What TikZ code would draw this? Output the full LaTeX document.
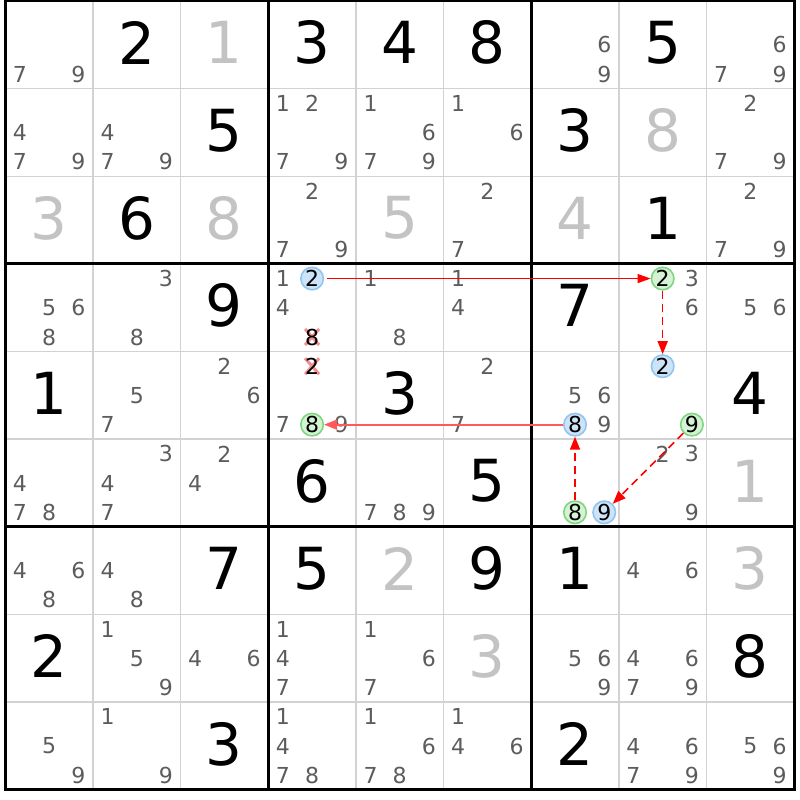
\documentclass[tikz,border=0pt]{standalone}
\usepackage{fontspec}
\setmainfont{DejaVu Sans}
\usetikzlibrary{arrows.meta}
\definecolor{thin}{HTML}{D2D2D2}
\definecolor{solved}{HTML}{C3C3C3}
\definecolor{candc}{HTML}{5C5C5C}
\definecolor{bluefl}{HTML}{CDE4F8}
\definecolor{bluebd}{HTML}{92C5F0}
\definecolor{greenfl}{HTML}{D4F2D4}
\definecolor{greenbd}{HTML}{80D680}
\definecolor{crossc}{HTML}{F29090}
\newcommand\bigf{\fontsize{58}{58}\selectfont}
\newcommand\candf{\fontsize{22}{22}\selectfont}
\newcommand\CX[2]{\pgfmathsetmacro\cx{5.3+(#2-0.5)*87.65}\pgfmathsetmacro\cy{1+(#1-0.5)*87.65-2}}
\newcommand\SX[3]{\pgfmathsetmacro\cx{5.3+(#2-1)*87.65+(mod(#3-1,3)+0.5)*29.2167}\pgfmathsetmacro\cy{1+(#1-1)*87.65+(floor((#3-1)/3)+0.5)*29.2167}}
\newcommand\given[3]{\CX{#1}{#2}\node[givenn] (g#1#2) at (\cx,\cy) {#3};}
\newcommand\solvd[3]{\CX{#1}{#2}\node[solvedn] (g#1#2) at (\cx,\cy) {#3};}
\newcommand\cands[3]{\foreach \d in {#3}{\SX{#1}{#2}{\d}\node[candn] (c#1#2\d) at (\cx,\cy) {\d};}}
\newcommand\spec[4]{\SX{#2}{#3}{#4}\node[#1] (s#2#3#4) at (\cx,\cy) {#4};}
\newcommand\crossd[3]{\SX{#1}{#2}{#3}\coordinate (x#1#2#3) at (\cx,\cy);
  \draw[crossx] ([shift={(-7,-8)}]x#1#2#3) -- ([shift={(7,8)}]x#1#2#3);
  \draw[crossx] ([shift={(-7,8)}]x#1#2#3) -- ([shift={(7,-8)}]x#1#2#3);
  \node[candn,text=black] (xd#1#2#3) at (x#1#2#3) {#3};}
\begin{document}
\begin{tikzpicture}[x=1pt,y=-1pt,
  givenn/.style={inner sep=0pt,font=\bigf,text=black},
  solvedn/.style={inner sep=0pt,font=\bigf,text=solved},
  candn/.style={inner sep=0pt,font=\candf,text=candc},
  hblue/.style={circle,draw=bluebd,fill=bluefl,line width=1.6pt,minimum size=22.5pt,inner sep=0pt,font=\candf,text=black},
  hgreen/.style={circle,draw=greenbd,fill=greenfl,line width=1.6pt,minimum size=22.5pt,inner sep=0pt,font=\candf,text=black},
  crossx/.style={draw=crossc,line width=3pt},
  thinl/.style={draw=thin,line width=1.6pt},
  thickl/.style={draw=black,line width=3pt},
  linkarrow/.style={draw=red,line width=1pt,-{Triangle[length=13pt,width=9pt]}},
  linkarrowb/.style={draw=red!65,line width=1.8pt,-{Triangle[length=13pt,width=10pt]}},
  dasharrow/.style={draw=red,line width=1.5pt,dash pattern=on 8pt off 5pt,-{Triangle[length=13pt,width=10pt]}}]
\useasboundingbox (0,0) rectangle (800,800);
\fill[white] (0,0) rectangle (800,800);
% thin grid lines
\foreach \i in {1,2,4,5,7,8}{
  \draw[thinl] ({5.3+\i*87.65},1) -- ({5.3+\i*87.65},789.85);
  \draw[thinl] (5.3,{1+\i*87.65}) -- (794.15,{1+\i*87.65});
}
\foreach \i in {3,6}{
  \draw[thickl] ({5.3+\i*87.65},1) -- ({5.3+\i*87.65},789.85);
  \draw[thickl] (5.3,{1+\i*87.65}) -- (794.15,{1+\i*87.65});
}
\draw[thickl] (5.3,1) rectangle (794.15,789.85);
% givens
\given{1}{2}{2}\given{1}{4}{3}\given{1}{5}{4}\given{1}{6}{8}\given{1}{8}{5}
\given{2}{3}{5}\given{2}{7}{3}
\given{3}{2}{6}\given{3}{8}{1}
\given{4}{3}{9}\given{4}{7}{7}
\given{5}{1}{1}\given{5}{5}{3}\given{5}{9}{4}
\given{6}{4}{6}\given{6}{6}{5}
\given{7}{3}{7}\given{7}{4}{5}\given{7}{6}{9}\given{7}{7}{1}
\given{8}{1}{2}\given{8}{9}{8}
\given{9}{3}{3}\given{9}{7}{2}
% solved
\solvd{1}{3}{1}\solvd{2}{8}{8}\solvd{3}{1}{3}\solvd{3}{3}{8}\solvd{3}{5}{5}\solvd{3}{7}{4}
\solvd{6}{9}{1}\solvd{7}{5}{2}\solvd{7}{9}{3}\solvd{8}{6}{3}
% candidates
\cands{1}{1}{7,9}\cands{1}{7}{6,9}\cands{1}{9}{6,7,9}
\cands{2}{1}{4,7,9}\cands{2}{2}{4,7,9}\cands{2}{4}{1,2,7,9}\cands{2}{5}{1,6,7,9}\cands{2}{6}{1,6}\cands{2}{9}{2,7,9}
\cands{3}{4}{2,7,9}\cands{3}{6}{2,7}\cands{3}{9}{2,7,9}
\cands{4}{1}{5,6,8}\cands{4}{2}{3,8}\cands{4}{4}{1,4}\cands{4}{5}{1,8}\cands{4}{6}{1,4}\cands{4}{8}{3,6}\cands{4}{9}{5,6}
\cands{5}{2}{5,7}\cands{5}{3}{2,6}\cands{5}{4}{7,9}\cands{5}{6}{2,7}\cands{5}{7}{5,6,9}
\cands{6}{1}{4,7,8}\cands{6}{2}{3,4,7}\cands{6}{3}{2,4}\cands{6}{5}{7,8,9}\cands{6}{8}{2,3,9}
\cands{7}{1}{4,6,8}\cands{7}{2}{4,8}\cands{7}{8}{4,6}
\cands{8}{2}{1,5,9}\cands{8}{3}{4,6}\cands{8}{4}{1,4,7}\cands{8}{5}{1,6,7}\cands{8}{7}{5,6,9}\cands{8}{8}{4,6,7,9}
\cands{9}{1}{5,9}\cands{9}{2}{1,9}\cands{9}{4}{1,4,7,8}\cands{9}{5}{1,6,7,8}\cands{9}{6}{1,4,6}\cands{9}{8}{4,6,7,9}\cands{9}{9}{5,6,9}
% eliminated
\crossd{4}{4}{8}\crossd{5}{4}{2}
% highlighted
\spec{hblue}{4}{4}{2}
\spec{hgreen}{4}{8}{2}
\spec{hblue}{5}{8}{2}
\spec{hgreen}{5}{8}{9}
\spec{hblue}{6}{7}{9}
\spec{hgreen}{6}{7}{8}
\spec{hblue}{5}{7}{8}
\spec{hgreen}{5}{4}{8}
% links
\draw[linkarrow,shorten <=3pt] (s442) -- (s482);
\draw[dasharrow] (s482) -- (s582);
\draw[dasharrow] (s589) -- (s679);
\draw[dasharrow] (s678) -- (s578);
\draw[linkarrowb] (s578) -- (s548);
\end{tikzpicture}
\end{document}
